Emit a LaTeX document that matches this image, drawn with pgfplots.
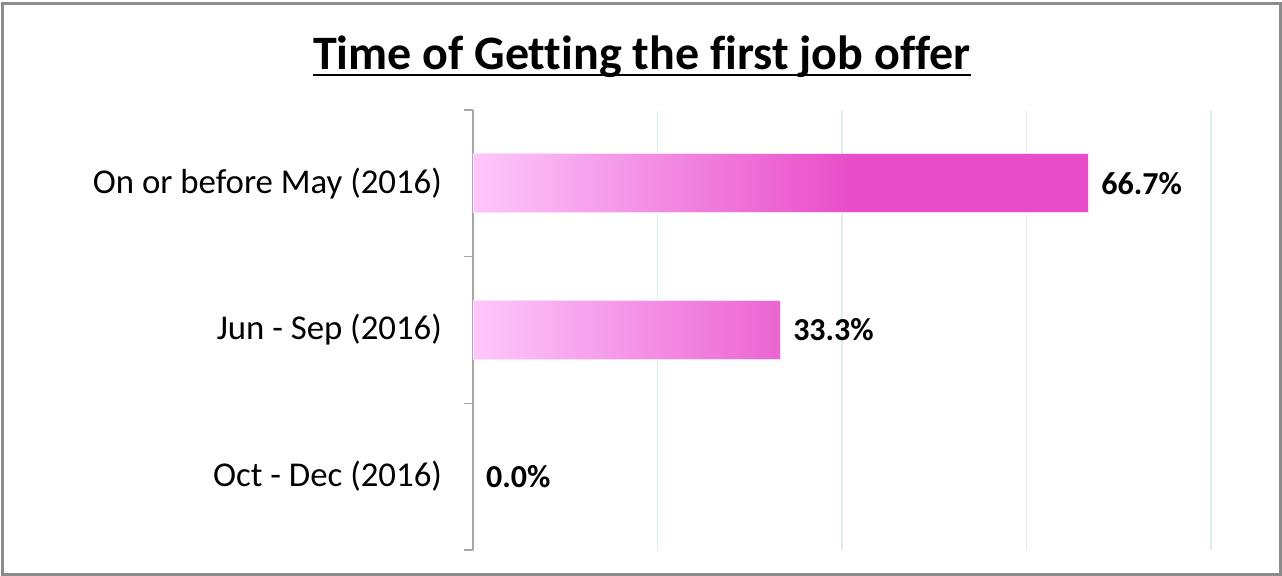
\documentclass[border=0pt]{standalone}
\usepackage{pgfplots}
\pgfplotsset{compat=1.18}
\usepackage{fontspec}
\setmainfont{Carlito}[Ligatures=NoCommon]

\definecolor{gridc}{HTML}{DCEEF4}
\definecolor{axisc}{HTML}{A6A6A6}
\definecolor{framec}{HTML}{8C8C8C}
\definecolor{pinkl}{HTML}{FDC8FB}
\definecolor{pinkd}{HTML}{E84CC8}
% tikz maps the middle 50bp of a shading onto the path
\pgfdeclarehorizontalshading{barshade}{100bp}{color(0bp)=(pinkl); color(25bp)=(pinkl); color(56bp)=(pinkd); color(100bp)=(pinkd)}

\begin{document}
\begin{tikzpicture}
\useasboundingbox (0,0) rectangle (641pt,-288pt);
\draw[framec, line width=1.5pt] (1pt,-2pt) rectangle (640pt,-287.5pt);

\node[font=\bfseries\fontsize{24}{28}\selectfont, anchor=base, inner sep=0pt] (title) at (321pt,-35pt) {Time of Getting the first job offer};
\draw[line width=1.3pt] ([yshift=-2.6pt]title.base west) -- ([yshift=-2.6pt]title.base east);

\begin{axis}[
  at={(236.5pt,-275pt)}, anchor=south west,
  scale only axis, width=369pt, height=220pt,
  xbar, bar width=29.5pt, bar shift=0pt,
  xmin=0, xmax=80, ymin=-0.5, ymax=2.5, y dir=reverse,
  axis lines*=left,
  x axis line style={draw=none},
  y axis line style={axisc, line width=0.6pt},
  xtick={20,40,60,80}, xticklabels={},
  xmajorgrids, grid style={gridc, line width=0.6pt},
  ytick={0,1,2},
  yticklabels={On or before May (2016), Jun - Sep (2016), Oct - Dec (2016)},
  minor ytick={-0.5,0.5,1.5,2.5},
  major tick length=0pt, minor tick length=4.5pt, tick align=outside,
  minor tick style={axisc, line width=0.6pt},
  yticklabel style={font=\fontsize{17.4}{20}\selectfont, xshift=-12pt},
  point meta=x,
  nodes near coords={\pgfmathprintnumber[fixed,fixed zerofill,precision=1,assume math mode=true]{\pgfplotspointmeta}\%},
  nodes near coords style={font=\bfseries\fontsize{16}{19}\selectfont, anchor=west, xshift=3pt, text=black},
]
\addplot[draw=pinkl!60, line width=0.4pt, shade, shading=barshade] coordinates {(66.7,0) (33.3,1)};
\addplot[draw=none, fill=none] coordinates {(0.0,2)};
\end{axis}
\end{tikzpicture}
\end{document}
